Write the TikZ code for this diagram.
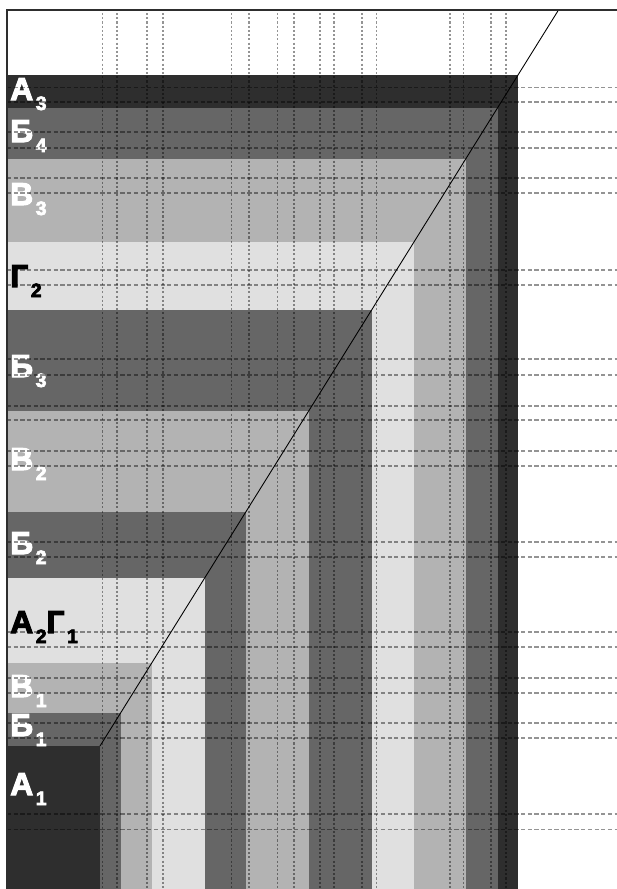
\documentclass[tikz,border=0pt]{standalone}
\usepackage{fontspec}
\setmainfont{Liberation Sans}[BoldFeatures={FakeBold=3.5}]
\usepackage{tikz}
\usetikzlibrary{calc}

\definecolor{tonA}{HTML}{2E2E2E}
\definecolor{tonB}{HTML}{666666}
\definecolor{tonV}{HTML}{B3B3B3}
\definecolor{tonG}{HTML}{E0E0E0}

\tikzset{
  lbl/.style={anchor=base west,inner sep=0pt,font=\fontsize{18}{19}\selectfont\bfseries},
  gridv/.style={black,opacity=0.42,line width=1pt,dash pattern=on 1.2pt off 1.2pt},
  gridh/.style={black,opacity=0.42,line width=1pt,dash pattern=on 2.4pt off 1.4pt},
  frame/.style={draw=tonA,line width=0.9pt}
}
\newcommand{\sublbl}[2]{#1\hspace{1.5pt}\raisebox{-0.2cm}{\fontsize{11}{12}\selectfont #2}}

\begin{document}
\begin{tikzpicture}[x=0.02cm,y=-0.02cm]
          \useasboundingbox (0,0) rectangle (617,889);
          \fill[tonA] (7,889) rectangle (518,75);
          \fill[tonB] (7,889) rectangle (497.5,108);
          \fill[tonV] (7,889) rectangle (465.7,159);
          \fill[tonG] (7,889) rectangle (414,242);
          \fill[tonB] (7,889) rectangle (371.6,310);
          \fill[tonV] (7,889) rectangle (308.7,411);
          \fill[tonB] (7,889) rectangle (245.8,512);
          \fill[tonG] (7,889) rectangle (204.7,578);
          \fill[tonV] (7,889) rectangle (151.7,663);
          \fill[tonB] (7,889) rectangle (120.6,713);
          \fill[tonA] (7,889) rectangle (100,746);

          \node[lbl,white] (a3) at (10,100) {\sublbl{А}{3}};
          \node[lbl,white] (b4) at (10,142) {\sublbl{Б}{4}};
          \node[lbl,white] (v3) at (10,205) {\sublbl{В}{3}};
          \node[lbl,black] (g2) at (10,287) {\sublbl{Г}{2}};
          \node[lbl,white] (b3) at (10,377) {\sublbl{Б}{3}};
          \node[lbl,white] (v2) at (10,470) {\sublbl{В}{2}};
          \node[lbl,white] (b2) at (10,554) {\sublbl{Б}{2}};
          \node[lbl,black] (a2g1) at (10,633) {\sublbl{А}{2}\sublbl{Г}{1}};
          \node[lbl,white] (v1) at (10,697) {\sublbl{В}{1}};
          \node[lbl,white] (b1) at (10,736) {\sublbl{Б}{1}};
          \node[lbl,white] (a1) at (10,795) {\sublbl{А}{1}};

          \foreach \gx in {102.5,116.7,146.7,163.3,231.5,249,277.4,293.8,320,333.7,362,376.6,450,463.5,491,505.7}
            \draw[gridv] (\gx,13) -- (\gx,889);
          \foreach \gy in {87.5,102,132.3,147.7,178.3,193.3,270,285,359.3,374.7,405.7,420,451,465.7,542.3,557.3,632.3,647.3,677.7,692.7,723.3,738.3,814.3,829.5}
            \draw[gridh] (7,\gy) -- (617,\gy);

          \coordinate (d0) at (100,746);
          \coordinate (d1) at (558.5,10);
          \draw[black,line width=0.5pt] (d0) -- (d1);

          \coordinate (f0) at (7,889);
          \coordinate (f1) at (7,10);
          \coordinate (f2) at (617,10);
          \draw[frame] (f0) -- (f1) -- (f2);
        \end{tikzpicture}
\end{document}
